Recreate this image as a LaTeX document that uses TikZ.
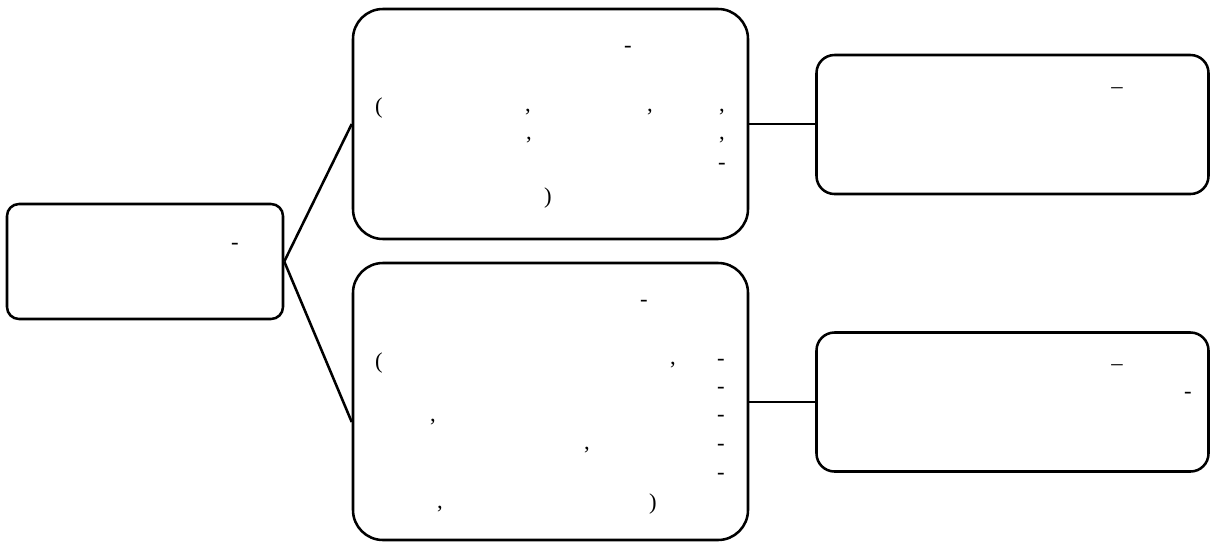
\documentclass[tikz,border=0pt]{standalone}
\usepackage{fontspec}
\setmainfont{Liberation Serif}
\begin{document}
\begin{tikzpicture}[x=0.75pt,y=-0.75pt,
  box/.style={draw, line width=1.9pt, rectangle, inner sep=0pt},
  conn/.style={line width=1.9pt},
  glyph/.style={anchor=base, inner sep=0pt, font=\fontsize{17}{20}\selectfont}]
\useasboundingbox (0,0) rectangle (1210,543);
% boxes
\node[box, rounded corners=9pt, minimum width=207pt, minimum height=86.25pt] (lb) at (145,261.5) {};
\node[box, rounded corners=22.5pt, minimum width=296.25pt, minimum height=172.5pt] (tm) at (550.5,124) {};
\node[box, rounded corners=22.5pt, minimum width=296.25pt, minimum height=207.75pt] (bm) at (550.5,401.5) {};
\node[box, rounded corners=13.5pt, minimum width=294pt, minimum height=104.25pt] (rt) at (1012.5,124.5) {};
\node[box, rounded corners=13.5pt, minimum width=294pt, minimum height=104.25pt] (rb) at (1012.5,402) {};
% connectors
\draw[conn] (lb.east) -- (tm.west);
\draw[conn] (lb.east) -- ([yshift=-15.4pt]bm.west);
\draw[conn] (tm.east) -- (tm.east -| rt.west);
\draw[conn] (rb.west) -- (rb.west -| bm.east);
% left box text
\node[glyph] (l1) at (235,249) {-};
% top middle text
\node[glyph] (t1) at (628,52) {-};
\node[glyph] (t2) at (379,113) {(};
\node[glyph] (t3) at (528,111) {,};
\node[glyph] (t4) at (650,111) {,};
\node[glyph] (t5) at (722,111) {,};
\node[glyph] (t6) at (529,139) {,};
\node[glyph] (t7) at (722,139) {,};
\node[glyph] (t8) at (722,169) {-};
\node[glyph] (t9) at (548,203) {)};
% bottom middle text
\node[glyph] (b1) at (644,306) {-};
\node[glyph] (b2) at (379,368) {(};
\node[glyph] (b3) at (673,364) {,};
\node[glyph] (b4) at (721,365) {-};
\node[glyph] (b5) at (721,393) {-};
\node[glyph] (b6) at (721,421) {-};
\node[glyph] (b7) at (721,450) {-};
\node[glyph] (b8) at (721,479) {-};
\node[glyph] (b9) at (433,421) {,};
\node[glyph] (b10) at (587,449) {,};
\node[glyph] (b11) at (440,508) {,};
\node[glyph] (b12) at (653,509) {)};
% right boxes text
\node[glyph] (r1) at (1117,93) {–};
\node[glyph] (r2) at (1117,370) {–};
\node[glyph] (r3) at (1188,398) {-};
\end{tikzpicture}
\end{document}
